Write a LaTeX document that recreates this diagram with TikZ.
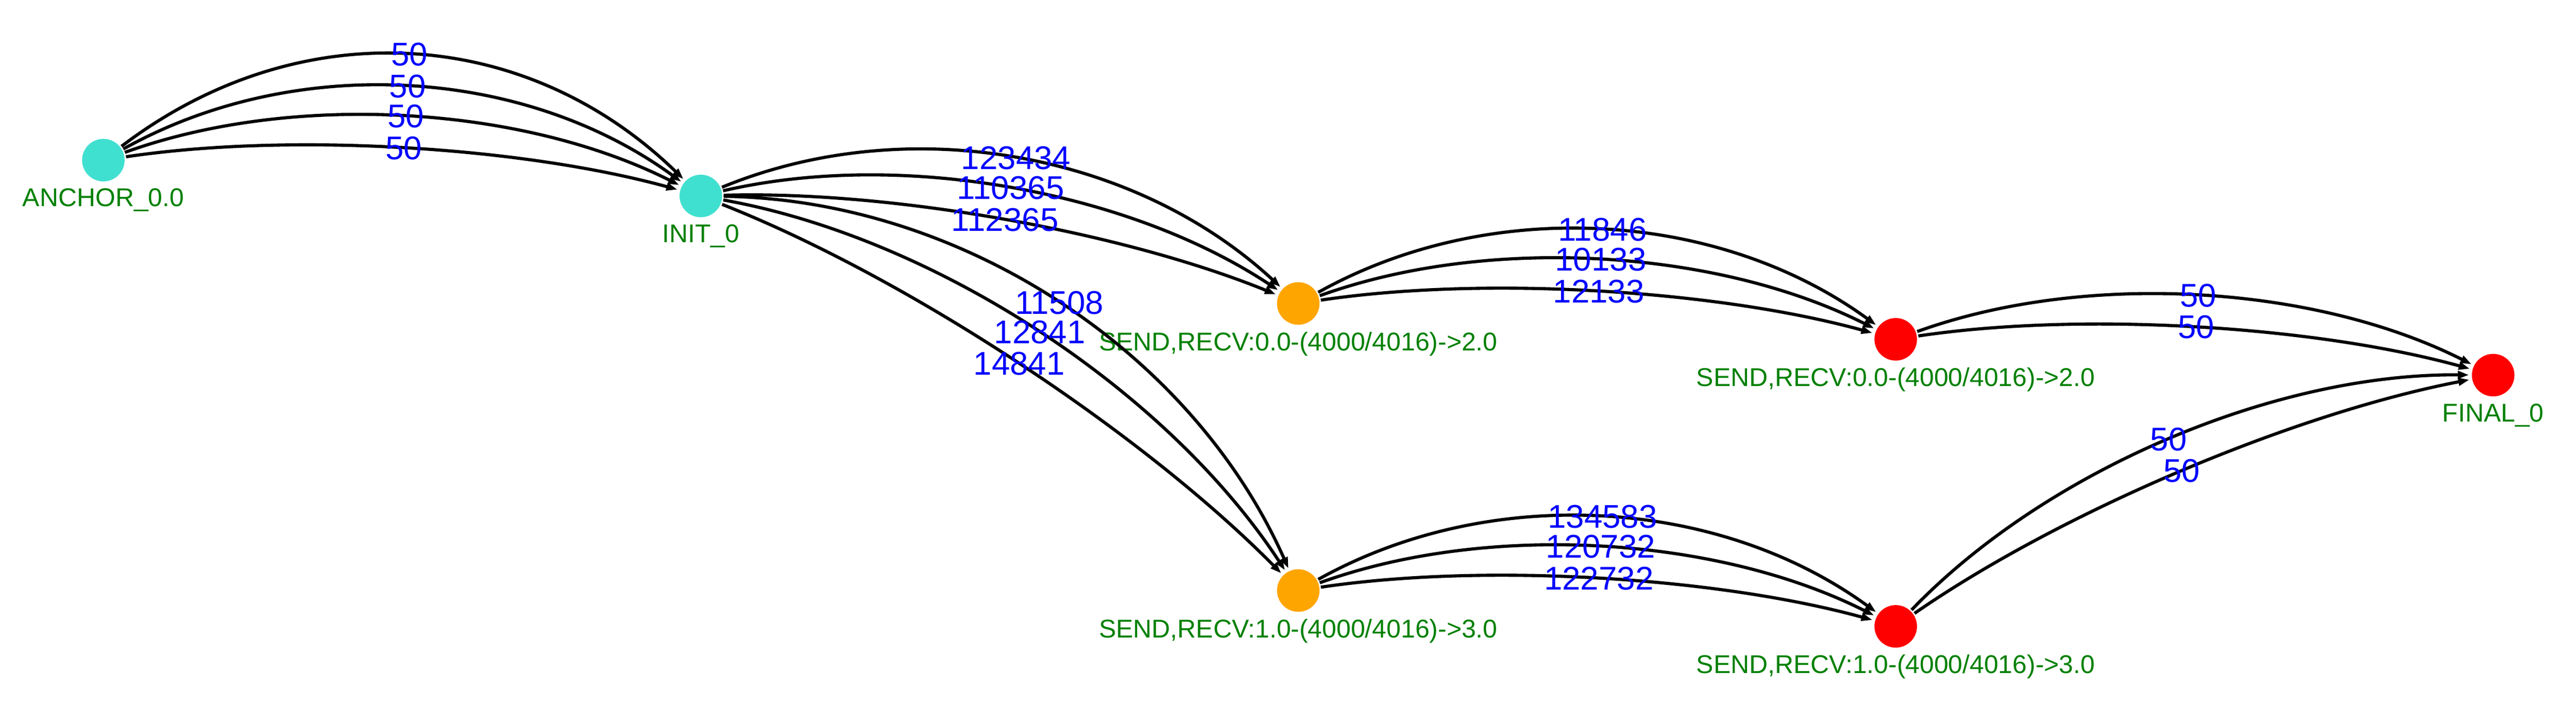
\documentclass[tikz,border=0pt]{standalone}
\usepackage{fontspec}
\setmainfont{Liberation Sans}
\usetikzlibrary{arrows.meta,positioning}
\definecolor{turq}{RGB}{64,224,208}
\definecolor{amber}{RGB}{255,165,0}
\definecolor{crimson}{RGB}{255,0,0}
\definecolor{lblgreen}{RGB}{0,128,0}
\definecolor{wtblue}{RGB}{0,0,255}

\begin{document}
\begin{tikzpicture}[->,>={Triangle[length=0.3cm,width=0.2cm]},shorten >=1pt,node distance=16.01cm,
  line width=2.4pt,
  state/.style={circle,inner sep=0pt,minimum size=1.14cm},
  name label/.style={font=\fontsize{19.6}{23}\selectfont,text=lblgreen,inner sep=0pt,below=0.11cm of #1},
  weight/.style={font=\fontsize{25}{30}\selectfont,text=wtblue,inner sep=0pt},
  rad1/.style={bend left=11.9,looseness=0.76},
  rad2/.style={bend left=23.3,looseness=0.82},
  rad3/.style={bend left=32.6,looseness=0.9},
  rad4/.style={bend left=40.7,looseness=1.01}]

  \useasboundingbox (0,0) rectangle (69.03,-18.88);

  \node[state,fill=turq] (anchor) at (2.77,-4.29) {};
  \node[state,fill=turq] (init) [right of=anchor,yshift=-0.96cm] {};
  \node[state,fill=amber] (send0) [right of=init,yshift=-2.88cm] {};
  \node[state,fill=amber] (send1) [right of=init,yshift=-10.57cm] {};
  \node[state,fill=crimson] (recv0) [right of=send0,yshift=-0.96cm] {};
  \node[state,fill=crimson] (recv1) [right of=send1,yshift=-0.96cm] {};
  \node[state,fill=crimson] (final) [right of=recv0,yshift=-0.96cm] {};

  \node[name label=anchor] (anchorlab) {ANCHOR\_0.0};
  \node[name label=init] (initlab) {INIT\_0};
  \node[name label=send0] (send0lab) {SEND,RECV:0.0-(4000/4016)->2.0};
  \node[name label=send1] (send1lab) {SEND,RECV:1.0-(4000/4016)->3.0};
  \node[name label=recv0] (recv0lab) {SEND,RECV:0.0-(4000/4016)->2.0};
  \node[name label=recv1] (recv1lab) {SEND,RECV:1.0-(4000/4016)->3.0};
  \node[name label=final] (finallab) {FINAL\_0};

  \path[every node/.style={weight}]
    (anchor) edge[rad4] node {50} (init)
             edge[rad3] node {50} (init)
             edge[rad2] node {50} (init)
             edge[rad1] node {50} (init)
    (init) edge[rad3] node {123434} (send0)
           edge[rad2] node {110365} (send0)
           edge[rad1] node {112365} (send0)
           edge[rad3] node {11508} (send1)
           edge[rad2] node {12841} (send1)
           edge[rad1] node {14841} (send1)
    (send0) edge[rad3] node {11846} (recv0)
            edge[rad2] node {10133} (recv0)
            edge[rad1] node {12133} (recv0)
    (send1) edge[rad3] node {134583} (recv1)
            edge[rad2] node {120732} (recv1)
            edge[rad1] node {122732} (recv1)
    (recv0) edge[rad2] node {50} (final)
            edge[rad1] node {50} (final)
    (recv1) edge[rad2] node {50} (final)
            edge[rad1] node {50} (final);
\end{tikzpicture}
\end{document}
